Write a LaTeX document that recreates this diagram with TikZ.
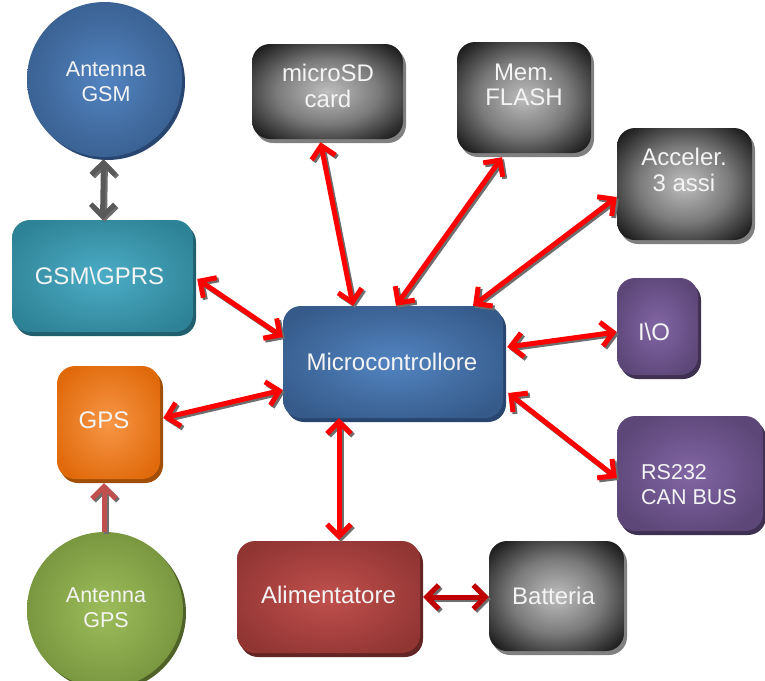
\documentclass[tikz,border=0pt]{standalone}
\usepackage{fontspec}
\setmainfont{Liberation Sans}
\usetikzlibrary{arrows.meta,calc}
\definecolor{textwhite}{HTML}{F4F4F4}
\definecolor{bluein}{HTML}{5284C1}
\definecolor{blueout}{HTML}{365B8A}
\definecolor{blueshd}{HTML}{284670}
\definecolor{tealin}{HTML}{4BADC6}
\definecolor{tealout}{HTML}{2E8296}
\definecolor{tealshd}{HTML}{215F6F}
\definecolor{orangein}{HTML}{F79646}
\definecolor{orangeout}{HTML}{E0690A}
\definecolor{orangeshd}{HTML}{A04E08}
\definecolor{greenin}{HTML}{9DBD5B}
\definecolor{greenout}{HTML}{73903A}
\definecolor{greenshd}{HTML}{4F6228}
\definecolor{redin}{HTML}{C0504D}
\definecolor{redout}{HTML}{913533}
\definecolor{redshd}{HTML}{632523}
\definecolor{purplein}{HTML}{8266A5}
\definecolor{purpleout}{HTML}{5D4778}
\definecolor{purpleshd}{HTML}{3F3151}
\definecolor{blackin}{HTML}{BEBEBE}
\definecolor{blackmid}{HTML}{7A7A7A}
\definecolor{blackout}{HTML}{0C0C0C}
\definecolor{blackshd}{HTML}{808080}
\definecolor{arrred}{HTML}{FF0000}
\definecolor{arrdark}{HTML}{C00000}
\definecolor{arrgray}{HTML}{595959}
\definecolor{arrrose}{HTML}{C0504D}
\definecolor{arrshd}{HTML}{6E6E6E}
\pgfdeclareradialshading{shblue}{\pgfpoint{0bp}{0bp}}{color(0bp)=(bluein); color(30bp)=(blueout); color(50bp)=(blueout)}
\pgfdeclareradialshading{shteal}{\pgfpoint{0bp}{0bp}}{color(0bp)=(tealin); color(30bp)=(tealout); color(50bp)=(tealout)}
\pgfdeclareradialshading{shorange}{\pgfpoint{0bp}{0bp}}{color(0bp)=(orangein); color(30bp)=(orangeout); color(50bp)=(orangeout)}
\pgfdeclareradialshading{shgreen}{\pgfpoint{0bp}{0bp}}{color(0bp)=(greenin); color(30bp)=(greenout); color(50bp)=(greenout)}
\pgfdeclareradialshading{shred}{\pgfpoint{0bp}{0bp}}{color(0bp)=(redin); color(30bp)=(redout); color(50bp)=(redout)}
\pgfdeclareradialshading{shpurple}{\pgfpoint{0bp}{0bp}}{color(0bp)=(purplein); color(28bp)=(purpleout); color(50bp)=(purpleout)}
\pgfdeclareradialshading{shblack}{\pgfpoint{0bp}{0bp}}{color(0bp)=(blackin); color(17bp)=(blackmid); color(35bp)=(blackout); color(50bp)=(blackout)}
\newcommand\myconn[3]{\draw[#1, draw=arrshd, transform canvas={shift={(2pt,-2pt)}}] #2 -- #3; \draw[#1] #2 -- #3;}
\begin{document}
\begin{tikzpicture}[x=1pt,y=-1pt,
  txt/.style={text=textwhite, font=\fontsize{24}{25.5}\selectfont, align=center, inner sep=0pt},
  stxt/.style={text=textwhite, font=\fontsize{21.5}{25}\selectfont, align=center, inner sep=0pt},
  box/.style={rectangle, rounded corners=18pt, inner sep=0pt, shade, shading=#1},
  ball/.style={circle, inner sep=0pt, shade, shading=#1},
  bshd/.style={preaction={fill=#1, transform canvas={shift={(3pt,-4pt)}}}},
  cshd/.style={preaction={fill=#1, transform canvas={shift={(3pt,-3pt)}}}},
  arr/.style={line width=5pt, draw=#1, {Straight Barb[length=12pt,width=24pt]}-{Straight Barb[length=12pt,width=24pt]}},
  sarr/.style={line width=5pt, draw=#1, -{Straight Barb[length=12pt,width=24pt]}}
]
\useasboundingbox (0,0) rectangle (765,680);
% shapes
\node[ball=shblue, cshd=blueshd, minimum size=155pt] (antgsm) at (104.5,79.5) {};
\node[stxt] (antgsmt) at (106,82) {Antenna\\GSM};
\node[box=shteal, bshd=tealshd, minimum width=181pt, minimum height=112pt] (gsm) at (102.5,276) {};
\node[txt] (gsmt) at (99.5,276) {GSM\textbackslash GPRS};
\node[box=shorange, bshd=orangeshd, minimum width=103pt, minimum height=113pt] (gps) at (108.5,422.5) {};
\node[txt] (gpst) at (104,420.5) {GPS};
\node[ball=shgreen, cshd=greenshd, minimum size=156pt] (antgps) at (105,610) {};
\node[stxt] (antgpst) at (106,608) {Antenna\\GPS};
\node[box=shblue, bshd=blueshd, minimum width=220pt, minimum height=112pt] (micro) at (393,362) {};
\node[txt] (microt) at (392,361.5) {Microcontrollore};
\node[box=shred, bshd=redshd, minimum width=183pt, minimum height=112pt] (alim) at (328.5,597) {};
\node[txt] (alimt) at (328.5,595) {Alimentatore};
\node[box=shblack, bshd=blackshd, minimum width=135pt, minimum height=110pt] (batt) at (556.5,596) {};
\node[txt] (battt) at (553.5,596) {Batteria};
\node[box=shblack, bshd=blackshd, minimum width=151pt, minimum height=95pt] (microsd) at (327.5,91.5) {};
\node[txt] (microsdt) at (328,86) {microSD\\card};
\node[box=shblack, bshd=blackshd, minimum width=134pt, minimum height=111pt] (flash) at (524,97.5) {};
\node[txt] (flasht) at (524,85) {Mem.\\FLASH};
\node[box=shblack, bshd=blackshd, minimum width=135pt, minimum height=112pt] (acc) at (684.5,184) {};
\node[txt] (acct) at (684,170) {Acceler.\\3 assi};
\node[box=shpurple, bshd=purpleshd, minimum width=81pt, minimum height=97pt] (io) at (657.5,326.5) {};
\node[txt] (iot) at (654,332) {I\textbackslash O};
\node[box=shpurple, bshd=purpleshd, minimum width=146pt, minimum height=115pt] (rs) at (690,473.5) {};
\node[stxt, align=left, anchor=west] (rst) at (641,485) {RS232\\CAN BUS};
% connectors
\myconn{arr=arrred}{($(microsd.south)+(-7,3)$)}{($(micro.north)+(-40,0)$)}
\myconn{arr=arrred}{($(flash.south)+(-22,4)$)}{($(micro.north)+(3,0)$)}
\myconn{arr=arrred}{($(acc.west)+(0,13)$)}{($(micro.north)+(80,0)$)}
\myconn{arr=arrred}{($(io.west)+(0,5.5)$)}{($(micro.east)+(4,-15)$)}
\myconn{arr=arrred}{($(rs.west)+(0,4.5)$)}{($(micro.east)+(5,31)$)}
\myconn{arr=arrred}{($(gsm.east)+(4,3)$)}{($(micro.west)+(0,-25)$)}
\myconn{arr=arrred}{($(gps.east)+(3,-4.5)$)}{($(micro.west)+(0,28)$)}
\myconn{arr=arrred}{($(micro.south)+(-54,0)$)}{($(alim.north)+(10.5,-1)$)}
\myconn{arr=arrdark}{($(alim.east)+(3,0)$)}{($(batt.west)+(0,1)$)}
\myconn{arr=arrgray}{($(antgsm.south)+(-1,2)$)}{(gsm.north)}
\myconn{sarr=arrrose}{($(antgps.north)+(-1,0)$)}{($(gps.south)+(-4.5,4)$)}
\end{tikzpicture}
\end{document}
